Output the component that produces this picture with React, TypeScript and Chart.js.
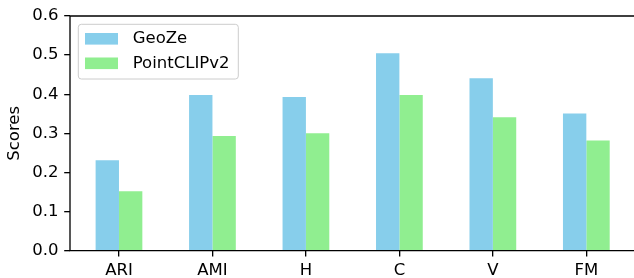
import React, { useEffect, useRef } from "react";
import { Chart, registerables } from "chart.js";

Chart.register(...registerables);

const categories = ["ARI", "AMI", "H", "C", "V", "FM"];
const geoZe = [0.231, 0.398, 0.393, 0.505, 0.441, 0.351];
const pointClipV2 = [0.152, 0.293, 0.3, 0.398, 0.341, 0.282];
const seriesNames = ["GeoZe", "PointCLIPv2"];
const yTicks = [0, 0.1, 0.2, 0.3, 0.4, 0.5, 0.6];

const FONT = "'DejaVu Sans', sans-serif";
const FS = 16.5;
const LW = 1.32;
const TICK = 5.8;

const spinesAndLegend = {
  id: "spinesAndLegend",
  afterDatasetsDraw(chart: any) {
    const { ctx, chartArea } = chart;
    const { left, right, top, bottom } = chartArea;
    ctx.save();
    ctx.strokeStyle = "#000";
    ctx.lineWidth = LW;
    ctx.beginPath();
    ctx.moveTo(left, top);
    ctx.lineTo(left, bottom);
    ctx.lineTo(right + 2, bottom);
    ctx.moveTo(left, top);
    ctx.lineTo(right + 2, top);
    ctx.stroke();

    // legend
    const bx = left + 8.3;
    const by = top + 8.3;
    const bw = 160;
    const bh = 54.7;
    const r = 3;
    ctx.beginPath();
    ctx.moveTo(bx + r, by);
    ctx.lineTo(bx + bw - r, by);
    ctx.arcTo(bx + bw, by, bx + bw, by + r, r);
    ctx.lineTo(bx + bw, by + bh - r);
    ctx.arcTo(bx + bw, by + bh, bx + bw - r, by + bh, r);
    ctx.lineTo(bx + r, by + bh);
    ctx.arcTo(bx, by + bh, bx, by + bh - r, r);
    ctx.lineTo(bx, by + r);
    ctx.arcTo(bx, by, bx + r, by, r);
    ctx.closePath();
    ctx.fillStyle = "rgba(255,255,255,0.8)";
    ctx.fill();
    ctx.strokeStyle = "#cccccc";
    ctx.lineWidth = 1;
    ctx.stroke();

    ctx.font = `${FS}px ${FONT}`;
    ctx.textBaseline = "middle";
    ctx.textAlign = "left";
    chart.data.datasets.forEach((ds: any, i: number) => {
      const cy = by + 14.5 + i * 24.5;
      ctx.fillStyle = ds.backgroundColor;
      ctx.fillRect(bx + 6.7, cy - 5.8, 33, 11.6);
      ctx.fillStyle = "#000";
      ctx.fillText(ds.label, bx + 54.4, cy);
    });
    ctx.restore();
  },
};

export default function App() {
  const ref = useRef<HTMLCanvasElement>(null);
  useEffect(() => {
    if (!ref.current) return;
    Chart.defaults.font.family = FONT;
    Chart.defaults.font.size = FS;
    Chart.defaults.color = "#000";
    const chart = new Chart(ref.current, {
      type: "bar",
      data: {
        datasets: [
          {
            label: seriesNames[0],
            data: geoZe.map((v, i) => ({ x: i, y: v })),
            backgroundColor: "#87CEEB",
          },
          {
            label: seriesNames[1],
            data: pointClipV2.map((v, i) => ({ x: i, y: v })),
            backgroundColor: "#90EE90",
          },
        ],
      },
      options: {
        animation: false,
        responsive: false,
        devicePixelRatio: 1,
        layout: { padding: { left: 0, top: 16, right: 0, bottom: 0 } },
        plugins: { legend: { display: false }, tooltip: { enabled: false } },
        datasets: { bar: { categoryPercentage: 0.5, barPercentage: 1.0 } },
        scales: {
          x: {
            type: "linear",
            min: -0.524,
            max: 5.51,
            offset: false,
            grid: {
              display: true,
              drawOnChartArea: false,
              drawTicks: true,
              tickLength: TICK,
              color: "#000",
              lineWidth: LW,
              offset: false,
            },
            border: { display: false },
            afterBuildTicks: (scale: any) => {
              scale.ticks = categories.map((_, i) => ({ value: i }));
            },
            afterFit: (scale: any) => {
              scale.height = 278 - 250.7;
            },
            ticks: {
              padding: 4,
              maxRotation: 0,
              autoSkip: false,
              callback: (v: any) => categories[Math.round(Number(v))],
            },
          },
          y: {
            type: "linear",
            min: 0,
            max: 0.6,
            grid: {
              display: true,
              drawOnChartArea: false,
              drawTicks: true,
              tickLength: TICK,
              color: "#000",
              lineWidth: LW,
            },
            border: { display: false },
            afterBuildTicks: (scale: any) => {
              scale.ticks = yTicks.map((v) => ({ value: v }));
            },
            afterFit: (scale: any) => {
              scale.width = 70;
            },
            ticks: {
              padding: TICK,
              callback: (v: any) => Number(v).toFixed(1),
            },
            title: {
              display: true,
              text: "Scores",
              font: { size: FS },
              padding: { top: 5, bottom: 0 },
            },
          },
        },
      },
      plugins: [spinesAndLegend],
    } as any);
    return () => chart.destroy();
  }, []);
  return (
    <div style={{ position: "absolute", left: 0, top: 0, width: 634, height: 278 }}>
      <canvas ref={ref} width={634} height={278} />
    </div>
  );
}
